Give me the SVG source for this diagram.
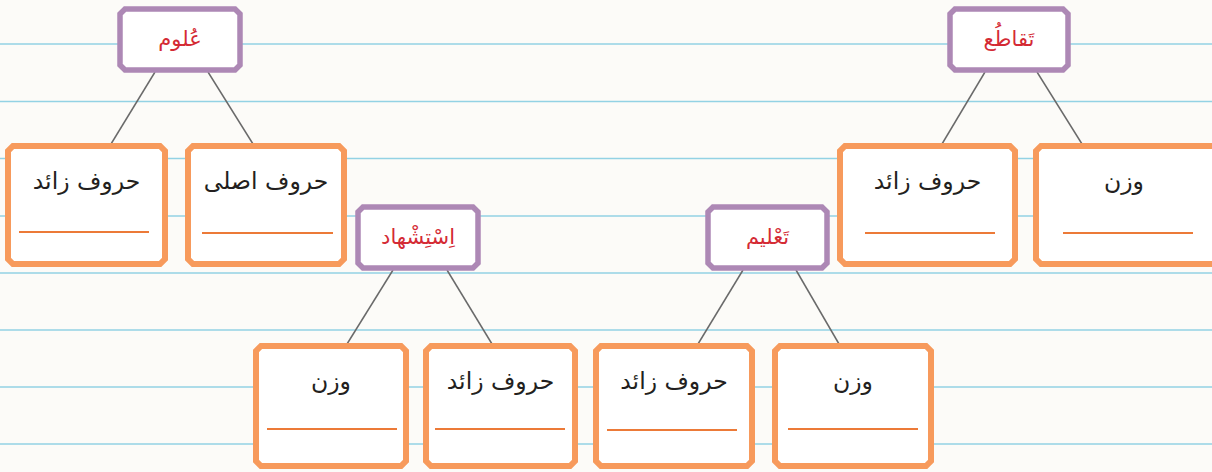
<svg xmlns="http://www.w3.org/2000/svg" width="1212" height="472" viewBox="0 0 1212 472">
<style>
.rule{stroke:#93d2e4;stroke-width:1.6}
.conn{stroke:#6a6a6a;stroke-width:1.5;fill:none}
.ob{fill:#ffffff;stroke:#f79a5c;stroke-width:6;stroke-linejoin:miter}
.pb{fill:#ffffff;stroke:#ad88b5;stroke-width:5.5;stroke-linejoin:miter}
.ul{stroke:#ec7a38;stroke-width:2}
.t{font-family:"DejaVu Sans",sans-serif;font-size:23.5px;fill:#231f20;text-anchor:middle}
.h{font-family:"DejaVu Sans",sans-serif;font-size:21px;fill:#d42a34;text-anchor:middle}
</style>
<rect x="0" y="0" width="1212" height="472" fill="#fcfbf8"/>
<g id="rules">
<line class="rule" x1="0" y1="44" x2="1212" y2="44"/>
<line class="rule" x1="0" y1="101.5" x2="1212" y2="101.5"/>
<line class="rule" x1="0" y1="158.5" x2="1212" y2="158.5"/>
<line class="rule" x1="0" y1="216" x2="1212" y2="216"/>
<line class="rule" x1="0" y1="273" x2="1212" y2="273"/>
<line class="rule" x1="0" y1="330" x2="1212" y2="330"/>
<line class="rule" x1="0" y1="387" x2="1212" y2="387"/>
<line class="rule" x1="0" y1="444" x2="1212" y2="444"/>
</g>
<g id="connectors">
<line class="conn" x1="155" y1="72" x2="111" y2="144"/>
<line class="conn" x1="208" y1="72" x2="253" y2="144"/>
<line class="conn" x1="985" y1="72" x2="942" y2="144"/>
<line class="conn" x1="1037" y1="72" x2="1082" y2="144"/>
<line class="conn" x1="393" y1="270" x2="347" y2="344"/>
<line class="conn" x1="447" y1="270" x2="492" y2="344"/>
<line class="conn" x1="743" y1="270" x2="698" y2="344"/>
<line class="conn" x1="796" y1="270" x2="839" y2="344"/>
</g>
<g id="n-oloum">
<polygon class="pb" points="125,9 235,9 240,14 240,65 235,70 125,70 120,65 120,14"/>
<text class="h" x="180" y="46">عُلوم</text>
</g>
<g id="n-taghato">
<polygon class="pb" points="955,9 1063,9 1068,14 1068,65 1063,70 955,70 950,65 950,14"/>
<text class="h" x="1009" y="46">تَقاطُع</text>
</g>
<g id="n-esteshhad">
<polygon class="pb" points="363,207 473,207 478,212 478,263 473,268 363,268 358,263 358,212"/>
<text class="h" x="418" y="244">اِسْتِشْهاد</text>
</g>
<g id="n-talim">
<polygon class="pb" points="713,207 822,207 827,212 827,263 822,268 713,268 708,263 708,212"/>
<text class="h" x="767.5" y="244">تَعْلیم</text>
</g>
<g id="n-a">
<polygon class="ob" points="13,146 160,146 165,151 165,259 160,264 13,264 8,259 8,151"/>
<text class="t" x="86.5" y="189">حروف زائد</text>
<line class="ul" x1="19" y1="232" x2="149" y2="232"/>
</g>
<g id="n-b">
<polygon class="ob" points="193,146 339,146 344,151 344,259 339,264 193,264 188,259 188,151"/>
<text class="t" x="266" y="189">حروف اصلی</text>
<line class="ul" x1="202" y1="233" x2="333" y2="233"/>
</g>
<g id="n-c">
<polygon class="ob" points="845,146 1010,146 1015,151 1015,259 1010,264 845,264 840,259 840,151"/>
<text class="t" x="927.5" y="189">حروف زائد</text>
<line class="ul" x1="865" y1="233" x2="995" y2="233"/>
</g>
<g id="n-d">
<polygon class="ob" points="1041,146 1215,146 1220,151 1220,259 1215,264 1041,264 1036,259 1036,151"/>
<text class="t" x="1124" y="189">وزن</text>
<line class="ul" x1="1063" y1="233" x2="1193" y2="233"/>
</g>
<g id="n-e">
<polygon class="ob" points="261,346 401,346 406,351 406,461 401,466 261,466 256,461 256,351"/>
<text class="t" x="331" y="389">وزن</text>
<line class="ul" x1="267" y1="429" x2="397" y2="429"/>
</g>
<g id="n-f">
<polygon class="ob" points="431,346 570,346 575,351 575,461 570,466 431,466 426,461 426,351"/>
<text class="t" x="500.5" y="389">حروف زائد</text>
<line class="ul" x1="435" y1="429" x2="565" y2="429"/>
</g>
<g id="n-g">
<polygon class="ob" points="601,346 747,346 752,351 752,461 747,466 601,466 596,461 596,351"/>
<text class="t" x="674" y="389">حروف زائد</text>
<line class="ul" x1="607" y1="430" x2="737" y2="430"/>
</g>
<g id="n-h">
<polygon class="ob" points="780,346 926,346 931,351 931,461 926,466 780,466 775,461 775,351"/>
<text class="t" x="853" y="389">وزن</text>
<line class="ul" x1="788" y1="429" x2="918" y2="429"/>
</g>
</svg>
